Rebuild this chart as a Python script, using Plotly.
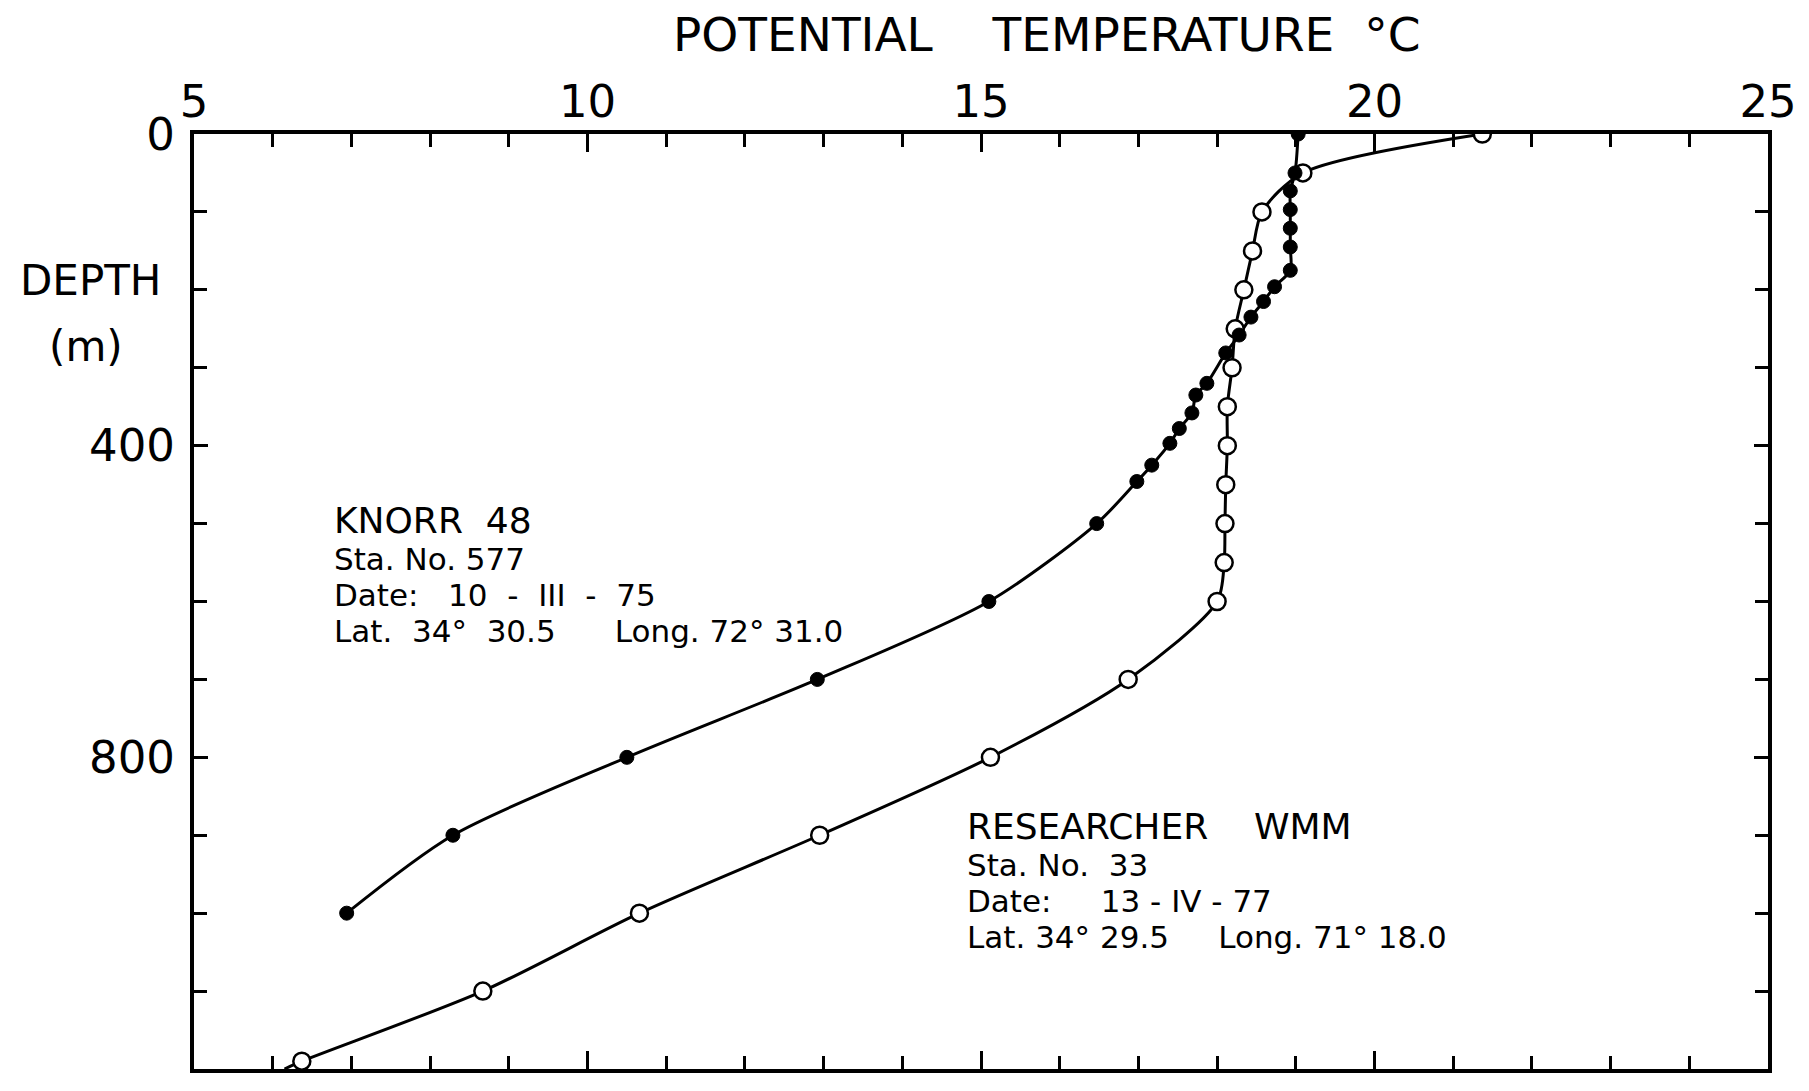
import plotly.graph_objects as go

# Knorr 48, Sta. 577 (filled circles): potential temperature (°C) vs depth (m)
knorr_depth = [0, 50, 73, 97, 121, 145, 175, 196, 215, 235, 258, 281, 320, 335,
               358, 378, 397, 425, 446, 500, 600, 700, 800, 900, 1000]
knorr_temp = [19.03, 18.99, 18.93, 18.93, 18.93, 18.93, 18.93, 18.73, 18.59, 18.43,
              18.28, 18.11, 17.87, 17.73, 17.68, 17.52, 17.40, 17.17, 16.98, 16.47,
              15.10, 12.92, 10.50, 8.29, 6.94]

# Researcher WMM, Sta. 33 (open circles)
res_depth = [0, 50, 100, 150, 200, 250, 300, 350, 400, 450, 500, 550, 600,
             700, 800, 900, 1000, 1100, 1190]
res_temp = [21.37, 19.09, 18.57, 18.45, 18.34, 18.23, 18.19, 18.13, 18.13, 18.11,
            18.10, 18.09, 18.00, 16.87, 15.12, 12.95, 10.66, 8.67, 6.37]
# the drawn profile continues to the bottom of the frame
res_line_depth = res_depth + [1200]
res_line_temp = res_temp + [6.15]

x_ticks = [5, 10, 15, 20, 25]
y_ticks = [0, 400, 800, 1200]

FONT = "DejaVu Sans"
INK = "black"

fig = go.Figure()

fig.add_trace(go.Scatter(x=res_line_temp, y=res_line_depth, mode="lines",
                         line=dict(color=INK, width=3, shape="spline", smoothing=0.8),
                         hoverinfo="skip", showlegend=False))
fig.add_trace(go.Scatter(x=knorr_temp, y=knorr_depth, mode="lines",
                         line=dict(color=INK, width=3, shape="spline", smoothing=0.8),
                         hoverinfo="skip", showlegend=False))
fig.add_trace(go.Scatter(x=res_temp, y=res_depth, mode="markers",
                         marker=dict(symbol="circle", size=17, color="white",
                                     line=dict(color=INK, width=2.5)),
                         name="Researcher WMM", showlegend=False))
fig.add_trace(go.Scatter(x=knorr_temp, y=knorr_depth, mode="markers",
                         marker=dict(symbol="circle", size=14, color=INK,
                                     line=dict(color=INK, width=1)),
                         name="Knorr 48", showlegend=False))

L, R, T, B = 194, 1773, 134, 1069
W, H = 1809, 1091


def px(xp, yp):
    return (xp - L) / (R - L), 1 - (yp - T) / (B - T)


annotations = []


def add_text(text, xp, yp, size, anchor="left", align="left"):
    ax, ay = px(xp, yp)
    annotations.append(dict(text=text, x=ax, y=ay, xref="paper", yref="paper",
                            xanchor=anchor, yanchor="middle", align=align,
                            showarrow=False,
                            font=dict(family=FONT, size=size, color=INK)))


PITCH = 36   # distance between detail lines, px
DETAIL_SIZE = 31


def detail_block(lines):
    # plotly spaces lines at 1.3 x the annotation font size
    return "<br>".join(f'<span style="font-size:{DETAIL_SIZE}px">{s}</span>'
                       for s in lines)


NB = "\u00a0"
add_text(f"POTENTIAL{NB*4}TEMPERATURE{NB*2}°C", 1049, 35, 47, "center")
add_text("DEPTH", 90, 280, 42, "center")
add_text("(m)", 86, 346, 42, "center")

knorr_lines = [f"Sta.{NB}No.{NB}577",
               f"Date:{NB*3}10{NB*2}-{NB*2}III{NB*2}-{NB*2}75",
               f"Lat.{NB*2}34°{NB*2}30.5{NB*6}Long.{NB}72°{NB}31.0"]
res_lines = [f"Sta.{NB}No.{NB*2}33",
             f"Date:{NB*5}13{NB}-{NB}IV{NB}-{NB}77",
             f"Lat.{NB}34°{NB}29.5{NB*5}Long.{NB}71°{NB}18.0"]

add_text(f"KNORR{NB*2}48", 332, 520, 36)
add_text(detail_block(knorr_lines), 332, 595, PITCH / 1.3)
add_text(f"RESEARCHER{NB*4}WMM", 967, 826, 36)
add_text(detail_block(res_lines), 967, 901, PITCH / 1.3)

axis_common = dict(showline=True, linewidth=4, linecolor=INK, mirror="ticks",
                   ticks="inside", tickwidth=3, tickcolor=INK,
                   showgrid=False, zeroline=False,
                   tickfont=dict(family=FONT, size=45, color=INK))

fig.update_xaxes(range=[5, 25], side="top", tickmode="array", tickvals=x_ticks,
                 ticktext=[str(v) for v in x_ticks], ticklen=18,
                 ticklabelstandoff=-5,
                 minor=dict(dtick=1, ticks="inside", ticklen=13, tickwidth=3,
                            tickcolor=INK, showgrid=False),
                 **axis_common)
fig.update_yaxes(range=[1200, 0], tickmode="array", tickvals=y_ticks,
                 ticktext=[str(v) for v in y_ticks], ticklen=14,
                 ticklabelstandoff=6,
                 minor=dict(dtick=100, ticks="inside", ticklen=13, tickwidth=3,
                            tickcolor=INK, showgrid=False),
                 **axis_common)

fig.update_layout(width=W, height=H,
                  margin=dict(l=L, r=W - R, t=T, b=H - B, pad=0),
                  paper_bgcolor="white", plot_bgcolor="white",
                  annotations=annotations, showlegend=False)

fig.write_html("out.html")
